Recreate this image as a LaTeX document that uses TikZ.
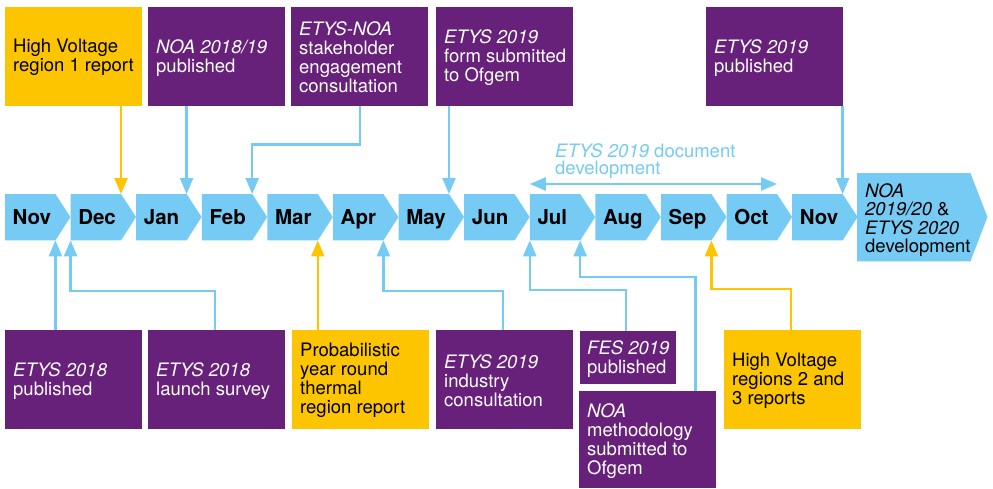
\documentclass[tikz,border=0pt]{standalone}
\usepackage{fontspec}
\setmainfont{TeX Gyre Heros}
\usetikzlibrary{arrows.meta}
\definecolor{purp}{HTML}{68217A}
\definecolor{yell}{HTML}{FDC400}
\definecolor{lblue}{HTML}{75CBF4}
\newcommand\bodyf{\fontsize{18.5}{19}\selectfont}
\newcommand\monthf{\fontsize{20.5}{24}\selectfont\bfseries}
\tikzset{
  >={Triangle[width=13pt,length=16pt]},
  pbox/.style={fill=purp, inner sep=0pt, minimum width=137pt, minimum height=99pt, anchor=north west},
  ybox/.style={pbox, fill=yell},
  wtxt/.style={text=white, font=\bodyf, align=left, inner sep=0pt, anchor=west},
  btxt/.style={wtxt, text=black},
  mrect/.style={inner sep=0pt, minimum width=50pt, minimum height=46pt, anchor=north west},
  mlab/.style={font=\monthf, text=black, inner sep=0pt, anchor=base west},
  lineb/.style={line width=2.3pt, draw=lblue},
  conn/.style={lineb, ->},
  yconn/.style={conn, draw=yell},
}
\begin{document}
\begin{tikzpicture}[x=1pt, y=-1pt]
\fill[white] (0,0) rectangle (993,488);
\useasboundingbox (0,0) rectangle (993,488);

% timeline
\foreach \m [count=\i from 0] in {Nov,Dec,Jan,Feb,Mar,Apr,May,Jun,Jul,Aug,Sep,Oct,Nov} {
  \pgfmathsetmacro\xo{5+65.6*\i}
  \node[mrect] (m\i) at (\xo,194) {};
  \fill[lblue] (m\i.north west) -- (m\i.north east) -- ++(15,23) -- (m\i.south east) -- (m\i.south west) -- cycle;
  \node[mlab] (ml\i) at ([xshift=7.5pt,yshift=16pt]m\i.south west) {\m};
}
\node[inner sep=0pt, minimum width=113pt, minimum height=88pt, anchor=north west] (fin) at (857,173) {};
\fill[lblue] (fin.north west) -- (fin.north east) -- ++(17,44) -- (fin.south east) -- (fin.south west) -- cycle;
\node[btxt, font=\fontsize{18.5}{18.5}\selectfont] (fint) at ([xshift=8pt,yshift=-3pt]fin.west)
  {\textit{NOA}\\\textit{2019/20} \&\\\textit{ETYS 2020}\\development};

% top boxes
\node[ybox] (t1) at (5,7) {};
\node[btxt] (t1x) at ([xshift=8pt,yshift=-1pt]t1.west) {High Voltage\\region 1 report};
\node[pbox] (t2) at (148,7) {};
\node[wtxt] (t2x) at ([xshift=8pt,yshift=-1pt]t2.west) {\textit{NOA 2018/19}\\published};
\node[pbox] (t3) at (291,7) {};
\node[wtxt] (t3x) at ([xshift=8pt,yshift=-1pt]t3.west) {\textit{ETYS-NOA}\\stakeholder\\engagement\\consultation};
\node[pbox] (t4) at (436,7) {};
\node[wtxt] (t4x) at ([xshift=8pt,yshift=-1pt]t4.west) {\textit{ETYS 2019}\\form submitted\\to Ofgem};
\node[pbox] (t5) at (706,7) {};
\node[wtxt] (t5x) at ([xshift=8pt,yshift=-1pt]t5.west) {\textit{ETYS 2019}\\published};

% bottom boxes
\node[pbox] (b1) at (5,330) {};
\node[wtxt] (b1x) at ([xshift=8pt,yshift=-1pt]b1.west) {\textit{ETYS 2018}\\published};
\node[pbox] (b2) at (148,330) {};
\node[wtxt] (b2x) at ([xshift=8pt,yshift=-1pt]b2.west) {\textit{ETYS 2018}\\launch survey};
\node[ybox] (b3) at (292,330) {};
\node[btxt] (b3x) at ([xshift=8pt,yshift=-1pt]b3.west) {Probabilistic\\year round\\thermal\\region report};
\node[pbox] (b4) at (436,330) {};
\node[wtxt] (b4x) at ([xshift=8pt,yshift=-1pt]b4.west) {\textit{ETYS 2019}\\industry\\consultation};
\node[pbox, minimum width=96pt, minimum height=53pt] (b5) at (580,331) {};
\node[wtxt] (b5x) at ([xshift=7pt,yshift=-1pt]b5.west) {\textit{FES 2019}\\published};
\node[pbox, minimum height=97pt] (b6) at (579,391) {};
\node[wtxt] (b6x) at ([xshift=8pt,yshift=-1pt]b6.west) {\textit{NOA}\\methodology\\submitted to\\Ofgem};
\node[ybox] (b7) at (724,330) {};
\node[btxt] (b7x) at ([xshift=8pt,yshift=-1pt]b7.west) {High Voltage\\regions 2 and\\3 reports};

% development label
\draw[lineb, <->] ([yshift=10pt]m8.north west) -- ([yshift=10pt]m11.north east);
\node[wtxt, text=lblue, font=\fontsize{18.5}{17}\selectfont] (dev) at (555,161) {\textit{ETYS 2019} document\\development};

% connectors
\draw[yconn] (t1.south -| m1.north east) -- (m1.north east);
\draw[conn] (t2.south -| m2.north east) -- (m2.north east);
\draw[conn] (t3.south) -- ++(0,38) -| (m3.north east);
\draw[conn] (t4.south -| m6.north east) -- (m6.north east);
\draw[conn] (t5.south -| m12.north east) -- (m12.north east);
\draw[conn] (b1.north -| m0.south east) -- (m0.south east);
\draw[conn] ([xshift=-1.5pt]b2.north) -- ++(0,-39) -| (m1.south west);
\draw[yconn] (b3.north -| m4.south east) -- (m4.south east);
\draw[conn] ([xshift=-1.5pt]b4.north) -- ++(0,-39) -| (m5.south east);
\draw[conn] ([xshift=-2pt]b5.north) -- ++(0,-41) -| (m8.south west);
\draw[conn] ([xshift=-21pt]b6.north east) -- ++(0,-114) -| (m8.south east);
\draw[yconn] ([xshift=-1.5pt]b7.north) -- ++(0,-41) -| (m10.south east);
\end{tikzpicture}
\end{document}
